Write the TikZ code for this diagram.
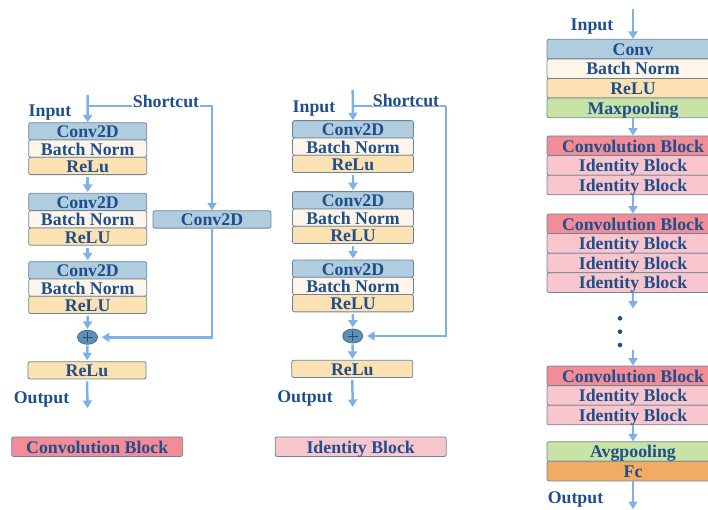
\documentclass[tikz,border=0pt]{standalone}
\usepackage{fontspec}
\setmainfont{Liberation Serif}
\usetikzlibrary{arrows.meta,shapes.geometric}
\definecolor{convc}{HTML}{B0CCDF}
\definecolor{bnc}{HTML}{FDF5E9}
\definecolor{reluc}{HTML}{FCE2B2}
\definecolor{poolc}{HTML}{C8E3A6}
\definecolor{fcc}{HTML}{F2AB63}
\definecolor{cbc}{HTML}{F28C97}
\definecolor{ibc}{HTML}{F9C6CD}
\definecolor{edgec}{HTML}{6E8599}
\definecolor{txtc}{HTML}{1F4E8A}
\definecolor{arrc}{HTML}{7EB1E8}
\definecolor{plusc}{HTML}{5E8FB9}
\definecolor{plusedge}{HTML}{3F6C94}
\tikzset{
  lbl/.style={font=\fontsize{17.8}{18}\selectfont\bfseries, text=txtc, inner sep=0pt},
  box/.style={lbl, draw=edgec, line width=0.8pt, rounded corners=2pt, rectangle,
     minimum height=17.3pt, text height=13pt, text depth=0pt},
  lbox/.style={box, minimum width=118pt},
  mbox/.style={box, minimum width=121pt},
  rbox/.style={box, minimum width=172pt, minimum height=19.6pt, text height=12.5pt},
  legbox/.style={box, minimum width=171pt, minimum height=19.5pt, text height=13pt},
  arr/.style={draw=arrc, line width=2.5pt, -{Triangle[length=7.5pt,width=9pt]}},
  ln/.style={draw=arrc, line width=2.5pt},
  sclbl/.style={lbl, fill=white, inner xsep=1pt, inner ysep=0pt},
  plusnode/.style={ellipse, draw=plusedge, line width=0.8pt, fill=plusc, minimum width=20pt, minimum height=14pt, inner sep=0pt},
  plusline/.style={draw=plusedge!70!black, line width=1pt}
}
\begin{document}
\begin{tikzpicture}[x=1pt,y=-1pt]
\useasboundingbox (0,0) rectangle (708,510);
\clip (0,0) rectangle (708,510);

% ================= Convolution block (left) =================
\node[lbl] (inL) at (50,112.5) {Input};
\coordinate (topL) at (87.5,95);
\coordinate (brL) at (87.5,106);
\node[lbox, fill=convc] (c1L) at (87.7,131.4) {Conv2D};
\node[lbox, fill=bnc]   (b1L) at (87.7,148.7) {Batch Norm};
\node[lbox, fill=reluc] (r1L) at (87.7,166.0) {ReLu};
\node[lbox, fill=convc] (c2L) at (87.7,202.0) {Conv2D};
\node[lbox, fill=bnc]   (b2L) at (87.7,219.3) {Batch Norm};
\node[lbox, fill=reluc] (r2L) at (87.7,236.6) {ReLU};
\node[lbox, fill=convc] (c3L) at (87.7,270.3) {Conv2D};
\node[lbox, fill=bnc]   (b3L) at (87.7,287.6) {Batch Norm};
\node[lbox, fill=reluc] (r3L) at (87.7,304.9) {ReLU};
\node[lbox, fill=convc] (sc) at (212,219.5) {Conv2D};
\node[plusnode] (pL) at (87.5,337.3) {};
\draw[plusline] ([xshift=-5pt]pL.center) -- ([xshift=5pt]pL.center);
\draw[plusline] ([yshift=-5pt]pL.center) -- ([yshift=5pt]pL.center);
\node[lbox, fill=reluc] (rfL) at (87,370.3) {ReLu};
\coordinate (outL) at (87.5,408);
\node[lbl] (otL) at (41.5,399.5) {Output};
\node[legbox, fill=cbc] (legC) at (97.2,446.7) {Convolution Block};

\draw[arr] (topL) -- (c1L.north);
\draw[arr] (brL) -| (sc.north);
\draw[arr, shorten <=2pt, shorten >=1pt] (r1L.south) -- (c2L.north);
\draw[arr, shorten <=2pt, shorten >=1pt] (r2L.south) -- (c3L.north);
\draw[arr, shorten <=2pt, shorten >=1pt] (r3L.south) -- (pL.north);
\draw[arr, shorten >=4pt] (sc.south) |- (pL.east);
\draw[arr, shorten <=1pt, shorten >=1pt] (pL.south) -- (rfL.north);
\draw[arr, shorten <=2pt] (rfL.south) -- (outL);
\node[sclbl] (scL) at (166,101) {Shortcut};

% ================= Identity block (middle) =================
\node[lbl] (inM) at (314,108.5) {Input};
\coordinate (topM) at (352.7,90);
\coordinate (brM) at (352.7,106);
\coordinate (crM) at (446,106);
\node[mbox, fill=convc] (c1M) at (353,129.3) {Conv2D};
\node[mbox, fill=bnc]   (b1M) at (353,146.6) {Batch Norm};
\node[mbox, fill=reluc] (r1M) at (353,163.9) {ReLu};
\node[mbox, fill=convc] (c2M) at (353,200.3) {Conv2D};
\node[mbox, fill=bnc]   (b2M) at (353,217.6) {Batch Norm};
\node[mbox, fill=reluc] (r2M) at (353,234.9) {ReLU};
\node[mbox, fill=convc] (c3M) at (353,268.6) {Conv2D};
\node[mbox, fill=bnc]   (b3M) at (353,285.9) {Batch Norm};
\node[mbox, fill=reluc] (r3M) at (353,303.2) {ReLU};
\node[plusnode] (pM) at (352.7,336) {};
\draw[plusline] ([xshift=-5pt]pM.center) -- ([xshift=5pt]pM.center);
\draw[plusline] ([yshift=-5pt]pM.center) -- ([yshift=5pt]pM.center);
\node[mbox, fill=reluc] (rfM) at (352.3,368.9) {ReLu};
\coordinate (outM) at (352.7,407);
\node[lbl] (otM) at (305,398.5) {Output};
\node[legbox, fill=ibc] (legI) at (360.7,446.7) {Identity Block};

\draw[arr] (topM) -- (c1M.north);
\draw[ln] (brM) -- (crM);
\draw[arr, shorten >=4pt] (crM) |- (pM.east);
\draw[arr, shorten <=2pt, shorten >=1pt] (r1M.south) -- (c2M.north);
\draw[arr, shorten <=2pt, shorten >=1pt] (r2M.south) -- (c3M.north);
\draw[arr, shorten <=2pt, shorten >=1pt] (r3M.south) -- (pM.north);
\draw[arr, shorten <=1pt, shorten >=1pt] (pM.south) -- (rfM.north);
\draw[arr, shorten <=2pt] (rfM.south) -- (outM);
\node[sclbl] (scM) at (406,100) {Shortcut};

% ================= ResNet (right) =================
\node[lbl] (inR) at (592,26.5) {Input};
\coordinate (topR) at (633,9);
\node[rbox, fill=convc] (rc)  at (633,49.1) {Conv};
\node[rbox, fill=bnc]   (rbn) at (633,68.7) {Batch Norm};
\node[rbox, fill=reluc] (rre) at (633,88.3) {ReLU};
\node[rbox, fill=poolc] (rmp) at (633,107.9) {Maxpooling};

\node[rbox, fill=cbc] (g2c)  at (633,145.8) {Convolution Block};
\node[rbox, fill=ibc] (g2i1) at (633,165.4) {Identity Block};
\node[rbox, fill=ibc] (g2i2) at (633,185.0) {Identity Block};

\node[rbox, fill=cbc] (g3c)  at (633,223.8) {Convolution Block};
\node[rbox, fill=ibc] (g3i1) at (633,243.4) {Identity Block};
\node[rbox, fill=ibc] (g3i2) at (633,263.0) {Identity Block};
\node[rbox, fill=ibc] (g3i3) at (633,282.6) {Identity Block};

\coordinate (dotsTop) at (633,308.5);
\fill[txtc] (620,318.3) circle (2.3pt);
\fill[txtc] (620,331.7) circle (2.3pt);
\fill[txtc] (620,345.0) circle (2.3pt);
\coordinate (dotsBot) at (633,350);

\node[rbox, fill=cbc] (g4c)  at (633,375.8) {Convolution Block};
\node[rbox, fill=ibc] (g4i1) at (633,395.4) {Identity Block};
\node[rbox, fill=ibc] (g4i2) at (633,415.0) {Identity Block};

\node[rbox, fill=poolc] (avg) at (633,451.5) {Avgpooling};
\node[rbox, fill=fcc]   (fc)  at (633,471.1) {Fc};
\coordinate (outR) at (633,509);
\node[lbl] (otR) at (575.5,499.5) {Output};

\draw[arr] (topR) -- (rc.north);
\draw[arr] (rmp.south) -- (g2c.north);
\draw[arr] (g2i2.south) -- (g3c.north);
\draw[arr] (g3i3.south) -- (dotsTop);
\draw[arr] (dotsBot) -- (g4c.north);
\draw[arr] (g4i2.south) -- (avg.north);
\draw[arr] (fc.south) -- (outR);
\end{tikzpicture}
\end{document}
